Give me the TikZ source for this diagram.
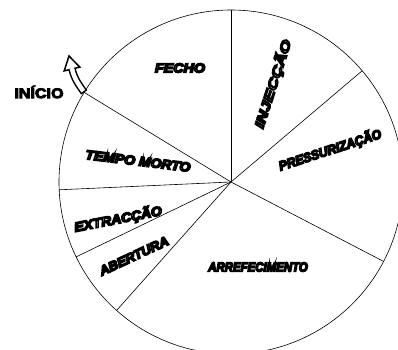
\documentclass[tikz,border=0pt]{standalone}
\usepackage{fontspec}
\usepackage{graphicx}
\newfontfamily\diagfont{Liberation Sans}
\usetikzlibrary{calc}
\newcommand{\outlined}[2]{\scalebox{#1}[1]{\special{pdf:literal direct 1 Tr 1.5 w}#2\special{pdf:literal direct 0 Tr}}}
\newcommand{\heavy}[1]{\special{pdf:literal direct 2 Tr 0.8 w}#1\special{pdf:literal direct 0 Tr}}

\begin{document}
\begin{tikzpicture}[x=1pt, y=1pt,
    spoke/.style={line width=0.6pt},
    phase/.style={font=\diagfont\bfseries\itshape\fontsize{13}{13}\selectfont, inner sep=0pt}]
  \useasboundingbox (0,0) rectangle (398,349);
  \coordinate (O) at (231,167);
  \begin{scope}
    \clip (0,0) rectangle (398,349);
    \draw[spoke] (O) circle[radius=172];
  \end{scope}
  \foreach \ang [count=\i] in {90,40.3,-27.5,228.3,205.8,182.6,148.6}
    \coordinate (s\i) at ($(O)+(\ang:172)$);
  \foreach \i in {1,...,7}
    \draw[spoke] (O) -- (s\i);

  \coordinate (arrowend) at (72,280);
  \coordinate (arrowtip) at (69,293);
  \draw[line width=7.5pt] (s7) to[out=125,in=-76] (arrowend);
  \draw[white, line width=4.5pt, shorten <=1.5pt] (s7) to[out=125,in=-76] (arrowend);
  \draw[line width=1.5pt, fill=white, line join=miter] ($(arrowend)+(7.8,1.9)$) -- (arrowtip) -- ($(arrowend)+(-7.8,-1.9)$) -- cycle;
  \draw[white, line width=4.5pt] ($(arrowend)+(0.3,-1.2)$) -- ($(arrowend)+(-0.24,0.97)$);

  \node[font=\diagfont\bfseries\fontsize{14}{14}\selectfont, inner sep=0pt] (inicio) at (39,257) {\scalebox{1.15}[1]{\heavy{INÍCIO}}};

  \node[phase] (fecho) at (180,281) {\outlined{1.1}{FECHO}};
  \node[phase, rotate=72] (injeccao) at (273,265) {\outlined{1.37}{INJECÇÃO}};
  \node[phase, rotate=18] (pressurizacao) at (330,199) {\outlined{0.95}{PRESSURIZAÇÃO}};
  \node[phase, rotate=-7] (tempomorto) at (138,188) {\outlined{1.08}{TEMPO MORTO}};
  \node[phase, rotate=11] (extraccao) at (118,130) {\outlined{1.08}{EXTRACÇÃO}};
  \node[phase, rotate=25] (abertura) at (134,93) {\outlined{1.03}{ABERTURA}};
  \node[phase] (arrefecimento) at (258,82) {\outlined{0.88}{ARREFECIMENTO}};
\end{tikzpicture}
\end{document}
